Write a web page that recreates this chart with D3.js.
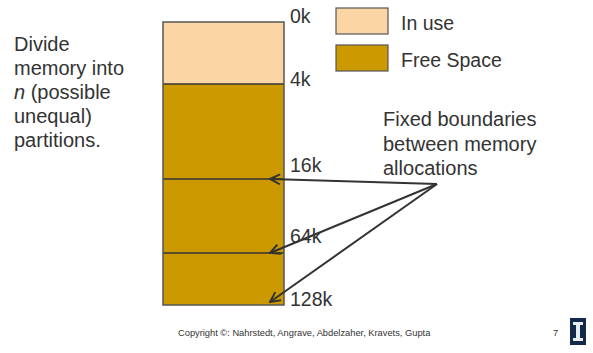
<!DOCTYPE html>
<html><head><meta charset="utf-8">
<script src="https://cdn.jsdelivr.net/npm/d3@7"></script>
<style>body{margin:0;background:#fff}svg{display:block;font-family:"Liberation Sans",Arial,sans-serif}</style>
</head><body>
<script>
// Data
const boundaryLabels = ["0k","4k","16k","64k","128k"];
const partitionKinds = ["In use","Free Space","Free Space","Free Space"];
// relative drawn heights of each partition as they appear in the picture
const partitionSizes = [62, 95, 74, 52];
const legendItems = ["In use","Free Space"];
const noteLines = ["Divide","memory into","(possible","unequal)","partitions."];
const calloutLines = ["Fixed boundaries","between memory","allocations"];
const footer = "Copyright ©: Nahrstedt, Angrave, Abdelzaher, Kravets, Gupta";
const pageNum = "7";

const W = 593, H = 353;
const svg = d3.select("body").append("svg").attr("width", W).attr("height", H);

const color = d3.scaleOrdinal().domain(legendItems).range(["#FBD6A4", "#CC9900"]);
const cum = [0];
partitionSizes.forEach(s => cum.push(cum[cum.length-1] + s));
const y = d3.scaleLinear().domain([0, cum[cum.length-1]]).range([22, 305]);
const x0 = 163, x1 = 284;
const labelOffsets = [1, 2, -7, -10, 1];

const defs = svg.append("defs");
defs.append("marker").attr("id","arr").attr("viewBox","0 0 12 12").attr("refX",11).attr("refY",6)
  .attr("markerWidth",12).attr("markerHeight",12).attr("markerUnits","userSpaceOnUse").attr("orient","auto")
  .append("path").attr("d","M1,1 L11,6 L1,11").attr("fill","none").attr("stroke","#333").attr("stroke-width",2);

// partitions
svg.selectAll("rect.part").data(partitionSizes).join("rect").attr("class","part")
  .attr("x", x0).attr("width", x1 - x0)
  .attr("y", (d,i) => y(cum[i])).attr("height", (d,i) => y(cum[i+1]) - y(cum[i]))
  .attr("fill", (d,i) => color(partitionKinds[i]));
svg.selectAll("line.b").data(cum.slice(1, -1)).join("line").attr("class","b")
  .attr("x1", x0).attr("x2", x1).attr("y1", d => y(d)).attr("y2", d => y(d))
  .attr("stroke", "#333").attr("stroke-width", 1.5);
svg.append("rect").attr("x", x0).attr("y", y(0)).attr("width", x1-x0).attr("height", y(cum[cum.length-1]) - y(0))
  .attr("fill","none").attr("stroke","#555").attr("stroke-width",1.5);

// boundary labels
svg.selectAll("text.bl").data(boundaryLabels).join("text").attr("class","bl")
  .attr("x", 290).attr("y", (d,i) => y(cum[i]) + labelOffsets[i])
  .attr("font-size", 19.5).attr("fill", "#333").text(d => d);

// legend
const lg = svg.selectAll("g.lg").data(legendItems).join("g").attr("class","lg")
  .attr("transform", (d,i) => `translate(336,${8 + i*37})`);
lg.append("rect").attr("width", 52).attr("height", 26).attr("fill", d => color(d)).attr("stroke","#555").attr("stroke-width",1.2);
lg.append("text").attr("x", 65).attr("y", 21.5).attr("font-size", 19.5).attr("fill","#333").text(d => d);

// left note
const note = svg.append("text").attr("font-size", 20).attr("fill","#333");
noteLines.forEach((l,i) => {
  const t = note.append("tspan").attr("x", 14).attr("y", 51 + i*24);
  if (i === 2) { t.append("tspan").attr("font-style","italic").text("n"); t.append("tspan").text(" " + l); }
  else t.text(l);
});

// callout
svg.append("text").attr("font-size", 20).attr("fill","#333").selectAll("tspan").data(calloutLines).join("tspan")
  .attr("x", 383).attr("y", (d,i) => 126 + i*24.5).text(d => d);

// arrows
const origin = [437, 184];
svg.selectAll("line.arrow").data(cum.slice(2)).join("line").attr("class","arrow")
  .attr("x1", origin[0]).attr("y1", origin[1]).attr("x2", 270).attr("y2", d => y(d) - (d === cum[cum.length-1] ? 3 : 0))
  .attr("stroke","#333").attr("stroke-width",2).attr("marker-end","url(#arr)");

// footer
svg.append("text").attr("x", 178).attr("y", 336).attr("font-size", 9.3).attr("fill","#333").text(footer);
svg.append("text").attr("x", 553).attr("y", 336).attr("font-size", 9.3).attr("fill","#333").text(pageNum);
// logo
const logo = svg.append("g").attr("transform","translate(570,318)");
logo.append("rect").attr("width",16).attr("height",27).attr("fill","#13294B");
logo.append("path").attr("d","M3,4 H13 V7 H10 V20 H13 V23 H3 V20 H6 V7 H3 Z").attr("fill","#E8EDF3");
</script>
</body></html>
